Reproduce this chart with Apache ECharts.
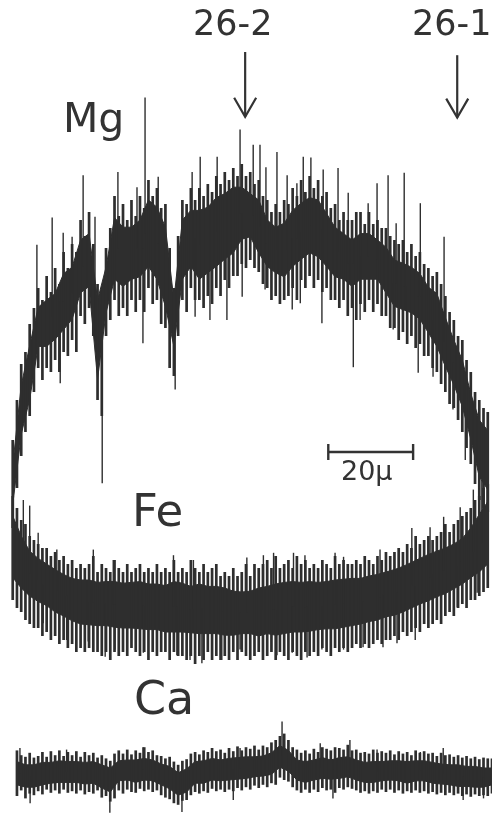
<!DOCTYPE html>
<html>
<head>
<meta charset="utf-8">
<script src="https://cdn.jsdelivr.net/npm/echarts/dist/echarts.min.js"></script>
<style>
  html, body { margin: 0; padding: 0; background: #fff; }
  #chart { width: 492px; height: 816px; }
</style>
</head>
<body>
<div id="chart"></div>
<script>
// scan positions (micron) along the traverse
const scanX = [3,5,7,9,11,13,15,17,19,21,23,25,27,29,31,33,35,37,39,41,43,45,47,49,51,53,55,57,59,61,63,65,67,69,71,73,75,77,79,81,83,85,87,89,91,93,95,97,99,101,103,105,107,109,111,113,115];
const scanXCa = [4,6,8,10,12,14,16,18,20,22,24,26,28,30,32,34,36,38,40,42,44,46,48,50,52,54,56,58,60,62,64,66,68,70,72,74,76,78,80,82,84,86,88,90,92,94,96,98,100,102,104,106,108,110,112,114,116];
// finer positions for the noise strokes
const strokeX = [3,4,5,6,7,8,9,10,11,12,13,14,15,16,17,18,19,20,21,22,23,24,25,26,27,28,29,30,31,32,33,34,35,36,37,38,39,40,41,42,43,44,45,46,47,48,49,50,51,52,53,54,55,56,57,58,59,60,61,62,63,64,65,66,67,68,69,70,71,72,73,74,75,76,77,78,79,80,81,82,83,84,85,86,87,88,89,90,91,92,93,94,95,96,97,98,99,100,101,102,103,104,105,106,107,108,109,110,111,112,113,114,115];
const strokeXCa = [4,5,6,7,8,9,10,11,12,13,14,15,16,17,18,19,20,21,22,23,24,25,26,27,28,29,30,31,32,33,34,35,36,37,38,39,40,41,42,43,44,45,46,47,48,49,50,51,52,53,54,55,56,57,58,59,60,61,62,63,64,65,66,67,68,69,70,71,72,73,74,75,76,77,78,79,80,81,82,83,84,85,86,87,88,89,90,91,92,93,94,95,96,97,98,99,100,101,102,103,104,105,106,107,108,109,110,111,112,113,114,115,116];

// Mg trace: solid core of the band (counts, arbitrary)
const mgCoreTop = [43.8,53.8,58.8,63.6,64.5,65.3,67.8,68.6,72.0,72.8,64.5,68.6,74.8,73.6,73.6,74.5,77.0,76.1,73.6,64.5,74.5,75.7,75.7,76.1,77.3,77.8,78.6,78.6,77.8,77.0,74.5,73.6,74.1,75.7,76.6,77.3,77.0,75.3,73.6,72.8,72.0,72.8,72.8,72.0,71.1,69.5,69.1,68.6,67.8,66.1,65.3,62.3,59.5,57.0,52.8,49.5,48.2];
const mgCoreBot = [38.9,47.7,52.1,58.7,58.7,59.6,60.8,62.1,65.4,66.2,54.6,62.9,67.1,66.2,67.1,67.4,68.7,67.1,63.7,58.7,67.1,68.7,67.1,67.9,68.7,69.6,70.4,72.1,72.4,70.4,68.7,67.9,67.4,68.7,69.6,70.4,69.9,68.7,67.4,67.1,66.2,67.1,67.1,67.1,65.4,63.7,63.3,62.9,62.1,60.4,58.7,56.2,53.9,51.2,47.1,42.4,40.8];
// Mg noise strokes, high / low end
const mgHi = [47,52,56.5,58,61.5,63.5,66,64.5,67.5,65.5,
  68.5,66.5,70.5,68.5,71.5,70.5,74.5,72.5,75.5,71.5,
  66.5,64,71,73.5,77.5,75,76.5,74.5,77,75,
  77.5,76,79.5,77.5,78.5,76,76.5,71,66,72.5,
  77,76.5,78.5,77,78.5,77.5,79,78,80,79,
  80.5,79.5,81,80,81.5,80,80.5,79,79.5,77.5,
  77,75.5,76.5,75.5,77,76.5,78.5,77.5,79.5,78,
  80,78.5,79.5,77.5,78,76,76.5,74.5,75.5,74.5,
  74.5,75.5,75.5,74,75.5,74,74.5,73.5,73.5,72.5,
  72,71.5,72,70.5,71.5,70,70.5,69,68.5,67.5,
  68,66.5,65,63,62,60,59.5,57,55.5,53,
  52,51,50.5];
const mgLo = [36,41,45,48,50,53,56,54.5,56,55.5,
  57,55.5,58,57.5,59.5,58,62.5,61.5,63.5,60,
  52,50,60,62,64.5,62.5,63.5,62.5,64.5,63,
  64.5,63,66,64,64.5,61.5,61,56,55,60,
  64.5,63,66,64.5,64.5,63.5,65,64,66,65,
  67,66,67.5,67.5,69,68.5,69.5,68.5,68,66.5,
  66,64.5,65,64,64.5,65,66,64.5,67,66,
  67.5,66,67,65.5,66,64.5,64.5,63.5,64.5,62.5,
  63.5,62,64,63,64.5,63,64,62.5,62.5,61,
  61,59.5,60.5,59,60,58.5,59,57.5,57.5,56,
  55.5,54,53,51.5,51,49.5,48,46,44,41.5,
  39.5,38.5,38];
// Mg long spikes [position, tip]
const mgSpikes = [[8.7,71.4],[12.3,74.8],[14.2,54.1],[14.9,72.9],[17,72.4],[19.6,80.1],[22.4,74.9],[24.1,41.6],[27.8,80.5],[32.3,78.6],[33.7,59.1],[34.2,89.8],[37.3,79.9],[41.3,53.3],[45.3,80.5],[46,62.4],[47.2,82.4],[49.5,62],[51.2,82.4],[53.5,62],[56.6,85.8],[57.1,64.9],[59.7,83.9],[61.3,83.9],[62.5,65.8],[62.7,81.1],[65.3,83],[67.7,80.1],[68.9,63.3],[70,79.1],[70.8,64.1],[71.5,82.4],[73.3,82.3],[75.9,61.6],[76.2,80.8],[79.7,81],[82.1,77.9],[83.3,56.1],[84.9,62],[86.8,76.6],[88.9,79.1],[91.5,80.1],[92.7,60.8],[93.4,74.1],[95.3,80.4],[96,59.1],[98.6,55.4],[99.1,76.6],[102.1,54.9],[104.7,72.4],[106.8,50.8],[109.7,44.5]];

// Fe trace
const feCoreTop = [37.5,35.0,33.1,32.2,31.5,30.8,30.2,29.7,29.5,29.5,29.2,29.3,29.3,29.1,29.2,29.3,29.0,29.0,28.8,29.3,29.1,28.7,29.0,28.7,28.7,28.5,28.1,28.0,28.1,28.5,28.7,29.0,29.2,29.3,29.2,29.3,29.2,29.3,29.5,29.6,29.7,29.7,30.0,30.2,30.5,30.8,31.2,31.7,32.2,32.7,33.1,33.5,34.0,34.7,36.0,37.7,39.3];
const feCoreBot = [29.8,28.5,27.5,26.8,26.3,25.5,25.0,24.4,24.0,23.9,23.8,23.8,23.6,23.5,23.5,23.4,23.3,23.3,23.0,23.0,23.0,22.9,22.8,22.8,22.8,22.6,22.6,22.8,22.8,22.5,22.8,22.6,22.8,23.0,23.0,23.1,23.3,23.4,23.4,23.6,23.8,24.0,24.3,24.5,24.9,25.1,25.5,26.0,26.5,26.9,27.4,27.8,28.4,29.0,29.8,30.5,31.5];
const feHi = [40,38.5,37,36.5,35,34.5,34,33.5,33.5,32.5,
  33,32,32.5,31.5,32,31,31.5,31,31.5,32.5,
  30.5,31.5,31,30.5,32,31,30.5,31.5,30.5,31,
  31.5,30.5,31,30.5,31.5,30.5,31,30.5,32,30.5,
  31,30.5,32,31,30.5,31.5,30.5,31,31.5,30,
  30.5,30,31,30,30.5,31.5,30,31.5,31,31.5,
  32,31,32.5,31,31.5,32,31,32.5,31.5,32,
  31,31.5,31,32,31.5,31,32.5,31.5,32,31.5,
  31.5,32,31.5,32.5,32,31.5,32.5,32,33,32.5,
  33,33.5,33,34,33.5,35,34,34.5,35,34.5,
  35,35.5,36.5,35.5,36.5,37,37.5,38,38.5,39.5,
  40,41,41.5];
const feLo = [27,26,25.5,24.5,24,23.5,23.5,22.5,23,22,
  22.5,21.5,22,21,21.5,20.5,21,20.5,21,20.5,
  20.5,20,20.5,19.5,20.5,20,20.5,20,21,20.5,
  20,20.5,19.5,20.5,20,20.5,20.5,19.5,20.5,20,
  20,19.5,20,19,20,19.5,20.5,19.5,20,19.5,
  20,19.5,20.5,19.5,20.5,20,19.5,20,20.5,19.5,
  20,20.5,19.5,20.5,20,19.5,20.5,20,19.5,20.5,
  20,20.5,20,21,20.5,20,21,20.5,21,20.5,
  21,21.5,21,21.5,21,21.5,22,21.5,22,22,
  22.5,22,23,22.5,23,23.5,23,24,23.5,24,
  24.5,24,25,25.5,25,26,26.5,26,27,27,
  27.5,28,28.5];
const feSpikes = [[5.5,39.5],[7,38.8],[9,35.4],[13.4,33.3],[22,33.3],[26.7,32],[40.9,32.6],[45.6,32],[58.2,32.3],[62.1,32.6],[64.5,32.9],[69.2,32.9],[71.9,32.6],[79,32.9],[81,32.4],[89.6,33.3],[97.1,36],[101.4,36.1],[104.6,37.4],[108.5,38.6],[111.6,40.8],[113.6,42],
  [10.2,24.1],[15.7,22],[20.8,21.8],[24.8,19.9],[27.1,20.8],[33.8,20.4],[41.7,20.1],[44.8,19.5],[47.6,19.1],[52.3,19.5],[56.6,20.8],[65.3,20.1],[68.9,20.4],[72.4,19.8],[75.9,20.8],[81,20.8],[85.6,21.1],[90.3,21.1],[93.6,21.6],[97.9,22],[102.1,24.1],[107.8,26.1],[112.5,27.9]];

// Ca trace
const caCoreTop = [6.8,6.4,6.4,6.7,6.7,6.9,6.8,6.8,6.7,6.8,6.4,6.0,6.9,7.0,7.0,7.2,7.0,6.5,6.2,5.4,5.9,6.8,6.9,7.2,7.0,7.2,7.3,7.4,7.4,7.5,7.9,8.8,8.2,7.0,6.8,7.0,7.3,7.0,7.3,7.4,7.0,6.7,6.8,6.8,6.9,6.9,6.8,6.9,6.9,6.7,6.5,6.4,6.4,6.2,6.2,6.0,6.0];
const caCoreBot = [3.9,3.6,3.6,3.9,4.1,4.2,4.2,4.2,4.0,4.1,3.5,3.0,4.4,4.5,4.2,4.5,4.4,3.9,3.4,2.6,3.0,4.1,4.1,4.5,4.4,4.5,4.6,4.7,4.9,5.0,5.2,6.1,5.6,4.5,4.2,4.5,4.7,4.6,4.7,4.9,4.5,4.2,4.2,4.4,4.5,4.4,4.1,4.4,4.4,4.1,4.0,3.9,3.7,3.7,3.6,3.6,3.9];
const caHi = [8.2,7.6,7.4,7.9,7.3,7.5,8,7.4,8.1,7.6,
  8.2,7.5,8,7.6,8.1,7.4,8,7.6,7.9,7.3,
  7.6,7.2,6.9,7.8,8.2,7.8,8.3,7.7,8.2,7.9,
  8.6,8,8.2,7.6,7.5,7.2,7.4,6.8,6.4,6.9,
  7.1,7.8,8,7.7,8.2,8,8.5,8.1,8.3,7.9,
  8.5,8.1,8.7,8.2,8.6,8.4,8.8,8.3,8.8,8.6,
  9.2,9.5,10,10.3,9.5,8.6,8.3,7.9,8.2,7.8,
  8.4,8,8.6,8.4,8.2,8.6,8.5,8.3,8.9,8.2,
  8.3,7.9,8,7.8,8.3,7.9,8.1,7.9,8.2,7.7,
  8.1,7.8,8,7.6,8.2,7.9,8.1,7.8,7.9,7.5,
  7.9,7.6,7.7,7.4,7.6,7.3,7.5,7.2,7.4,7.1,
  7.3,7.2,7.2];
const caLo = [2.5,3.2,2.2,2.8,2.6,3.1,2.7,3.3,2.9,3.2,
  2.8,3.3,2.9,3.1,2.8,3.2,2.7,3,2.8,3.2,
  2.3,2.5,1.8,2.2,3.2,2.8,3.3,3,2.9,3.4,
  3.1,3.3,3,3.2,2.6,2.3,2.1,1.6,1.4,1.9,
  2,2.6,3,2.8,3.1,2.9,3.4,3.1,3.3,3,
  3.3,3.1,3.5,3.2,3.6,3.3,3.8,3.5,3.9,3.6,
  4.1,3.9,4.8,4.5,4.3,3.6,3.2,2.9,3.3,2.9,
  3.3,3,3.5,3.2,3.3,2.9,3.5,3.3,3.6,3.4,
  3.2,2.9,3.1,2.8,3.1,2.9,3.3,3,3.3,2.9,
  3.2,2.8,3.1,2.9,3.2,2.9,3.1,2.8,3,2.7,
  2.9,2.6,2.9,2.6,2.8,2.5,2.7,2.4,2.7,2.5,
  2.6,2.5,2.8];
const caSpikes = [[4.7,8.5],[15.7,8.3],[33.7,8.6],[56.6,8.5],[66.5,11.8],[75.5,9.1],[82.5,9.5],[88.9,8.3],[99.1,8.0],[104.5,8.5],
  [7.1,1.6],[25.9,0.4],[42.9,0.5],[55,2.0],[78.5,2.2],[109.2,2.0],[114,2.2]];

// analysis points (arrows) and scale bar
const pointNames = ['26-2', '26-1'];
const pointMarks = [[57.8, 95.5, 87.4], [107.8, 95.1, 87.3]];
const scaleBar = [[77.4, 97.4, 45.5]];

const ink = '#2e2e2e';
const chart = echarts.init(document.getElementById('chart'));

function core(xs, top, bot) {
  return {
    type: 'custom',
    silent: true,
    data: [[xs[0], top[0]]],
    renderItem: function (params, api) {
      const pts = [];
      for (let i = 0; i < xs.length; i++) pts.push(api.coord([xs[i], top[i]]));
      for (let i = xs.length - 1; i >= 0; i--) pts.push(api.coord([xs[i], bot[i]]));
      return { type: 'polygon', shape: { points: pts }, style: { fill: ink, stroke: ink, lineWidth: 1 } };
    }
  };
}

function strokes(xs, lo, hi) {
  return {
    type: 'custom',
    silent: true,
    data: xs.map((x, i) => [x, lo[i], hi[i]]),
    renderItem: function (params, api) {
      const a = api.coord([api.value(0), api.value(1)]);
      const b = api.coord([api.value(0), api.value(2)]);
      return { type: 'line', shape: { x1: a[0], y1: a[1], x2: b[0], y2: b[1] }, style: { stroke: ink, lineWidth: 2.7 } };
    }
  };
}

function spikes(xs, top, bot, list) {
  return {
    type: 'custom',
    silent: true,
    data: list,
    renderItem: function (params, api) {
      const x = api.value(0);
      // nearest scan sample gives the band centre
      let k = 0;
      for (let i = 1; i < xs.length; i++) if (Math.abs(xs[i] - x) < Math.abs(xs[k] - x)) k = i;
      const a = api.coord([x, api.value(1)]);
      const b = api.coord([x, (top[k] + bot[k]) / 2]);
      return { type: 'line', shape: { x1: a[0], y1: a[1], x2: b[0], y2: b[1] }, style: { stroke: ink, lineWidth: 1.4 } };
    }
  };
}

const option = {
  animation: false,
  backgroundColor: '#fff',
  grid: { left: 0, right: 0, top: 0, bottom: 0 },
  xAxis: { type: 'value', min: 0, max: 116, show: false },
  yAxis: { type: 'value', min: 0, max: 102, show: false },
  graphic: [
    { type: 'text', left: 63, top: 101, style: { text: 'Mg', font: '41px "DejaVu Sans"', fill: '#333' } },
    { type: 'text', left: 132, top: 492, style: { text: 'Fe', font: '45px "DejaVu Sans"', fill: '#333' } },
    { type: 'text', left: 134, top: 679, style: { text: 'Ca', font: '46px "DejaVu Sans"', fill: '#333' } },
    { type: 'text', left: 193, top: 8, style: { text: pointNames[0], font: '35px "DejaVu Sans"', fill: '#333' } },
    { type: 'text', left: 412, top: 8, style: { text: pointNames[1], font: '35px "DejaVu Sans"', fill: '#333' } },
    { type: 'text', left: 341, top: 459, style: { text: '20\u03bc', font: '27px "DejaVu Sans"', fill: '#333' } }
  ],
  series: [
    core(scanX, mgCoreTop, mgCoreBot),
    strokes(strokeX, mgLo, mgHi),
    spikes(scanX, mgCoreTop, mgCoreBot, mgSpikes),
    core(scanX, feCoreTop, feCoreBot),
    strokes(strokeX, feLo, feHi),
    spikes(scanX, feCoreTop, feCoreBot, feSpikes),
    core(scanXCa, caCoreTop, caCoreBot),
    strokes(strokeXCa, caLo, caHi),
    spikes(scanXCa, caCoreTop, caCoreBot, caSpikes),
    {
      type: 'custom',
      silent: true,
      data: pointMarks,
      renderItem: function (params, api) {
        const a = api.coord([api.value(0), api.value(1)]);
        const b = api.coord([api.value(0), api.value(2)]);
        const st = { stroke: '#333', lineWidth: 2.2, fill: 'none' };
        return {
          type: 'group',
          children: [
            { type: 'line', shape: { x1: a[0], y1: a[1], x2: b[0], y2: b[1] }, style: st },
            { type: 'polyline', shape: { points: [[b[0] - 11, b[1] - 19], [b[0], b[1]], [b[0] + 11, b[1] - 19]] }, style: st }
          ]
        };
      }
    },
    {
      type: 'custom',
      silent: true,
      data: scaleBar,
      renderItem: function (params, api) {
        const a = api.coord([api.value(0), api.value(2)]);
        const b = api.coord([api.value(1), api.value(2)]);
        const st = { stroke: '#333', lineWidth: 2.4 };
        return {
          type: 'group',
          children: [
            { type: 'line', shape: { x1: a[0], y1: a[1], x2: b[0], y2: b[1] }, style: st },
            { type: 'line', shape: { x1: a[0], y1: a[1] - 8, x2: a[0], y2: a[1] + 8 }, style: st },
            { type: 'line', shape: { x1: b[0], y1: b[1] - 8, x2: b[0], y2: b[1] + 8 }, style: st }
          ]
        };
      }
    }
  ]
};

chart.setOption(option);
</script>
</body>
</html>
